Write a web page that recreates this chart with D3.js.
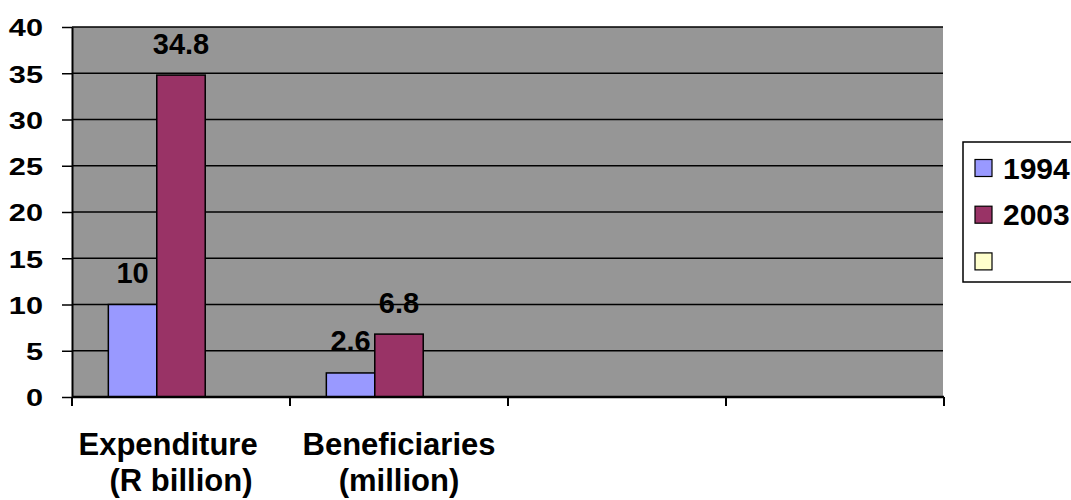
<!DOCTYPE html>
<html>
<head>
<meta charset="utf-8">
<script src="https://cdn.jsdelivr.net/npm/d3@7"></script>
<style>
  html, body { margin: 0; padding: 0; background: #ffffff; }
  svg { display: block; }
  text { font-family: "Liberation Sans", Arial, sans-serif; font-weight: bold; fill: #000; }
</style>
</head>
<body>
<svg id="chart" width="1071" height="500"></svg>
<script>
// Category labels (two lines each); the last two categories are empty slots
const categories = [
  ["Expenditure\u00a0\u00a0\u00a0", "(R billion)"],
  ["Beneficiaries", "(million)"],
  ["", ""],
  ["", ""]
];
const seriesNames = ["1994", "2003", ""];
const values1994 = [10, 2.6, null, null];
const values2003 = [34.8, 6.8, null, null];
const valuesBlank = [null, null, null, null];
const yTicks = [0, 5, 10, 15, 20, 25, 30, 35, 40];
const seriesColors = ["#9999ff", "#993366", "#ffffcc"];

const series = [values1994, values2003, valuesBlank];

const svg = d3.select("#chart");
const plot = { left: 72, right: 944, top: 27, bottom: 397 };

const x = d3.scaleBand()
  .domain(d3.range(categories.length))
  .range([plot.left, plot.right])
  .paddingInner(0).paddingOuter(0);

const xs = d3.scaleBand()
  .domain(d3.range(seriesNames.length))
  .range([0, x.bandwidth()])
  .paddingInner(0).paddingOuter(0.75);

const y = d3.scaleLinear().domain([0, 40]).range([plot.bottom, plot.top]);

// Plot area background
svg.append("rect")
  .attr("x", plot.left).attr("y", plot.top)
  .attr("width", plot.right - 1 - plot.left).attr("height", plot.bottom - plot.top)
  .attr("fill", "#969696");

// Horizontal gridlines
svg.append("g").selectAll("line")
  .data(yTicks.filter(d => d > 0))
  .join("line")
  .attr("x1", plot.left).attr("x2", plot.right - 1)
  .attr("y1", d => y(d)).attr("y2", d => y(d))
  .attr("stroke", "#000").attr("stroke-width", 1.5);

// Bars
const barData = [];
series.forEach((vals, si) => vals.forEach((v, ci) => {
  if (v != null) barData.push({ si, ci, v });
}));

svg.append("g").selectAll("rect")
  .data(barData)
  .join("rect")
  .attr("x", d => x(d.ci) + xs(d.si))
  .attr("y", d => y(d.v))
  .attr("width", xs.bandwidth())
  .attr("height", d => y(0) - y(d.v))
  .attr("fill", d => seriesColors[d.si])
  .attr("stroke", "#000").attr("stroke-width", 1.5);

// Value labels above the bars
svg.append("g").selectAll("text")
  .data(barData)
  .join("text")
  .attr("x", d => x(d.ci) + xs(d.si) + xs.bandwidth() / 2)
  .attr("y", d => y(d.v) - 21.5)
  .attr("text-anchor", "middle")
  .style("font-size", "29px")
  .text(d => d3.format("~g")(d.v));

// Y axis
const yAxis = svg.append("g")
  .attr("transform", `translate(${plot.left},0)`)
  .call(d3.axisLeft(y).tickValues(yTicks).tickSize(10).tickSizeOuter(0).tickFormat(d3.format("d")));
yAxis.select(".domain").attr("stroke", "#000").attr("stroke-width", 2);
yAxis.selectAll(".tick line").attr("stroke", "#000").attr("stroke-width", 1.5);
yAxis.selectAll(".tick text")
  .attr("x", -29 / 1.28)
  .attr("transform", "scale(1.28,1)")
  .attr("dy", "0.37em")
  .style("font-size", "24px")
  .style("font-family", "'Liberation Sans', Arial, sans-serif")
  .style("font-weight", "bold")
  .attr("fill", "#000");

// X axis with ticks at the category boundaries
const xAxis = svg.append("g")
  .attr("transform", `translate(0,${plot.bottom})`);
xAxis.append("line")
  .attr("x1", plot.left).attr("x2", plot.right)
  .attr("stroke", "#000").attr("stroke-width", 2.5);
xAxis.selectAll(".xtick")
  .data(d3.range(categories.length + 1))
  .join("line")
  .attr("class", "xtick")
  .attr("x1", i => i < categories.length ? x(i) : x(i - 1) + x.bandwidth())
  .attr("x2", i => i < categories.length ? x(i) : x(i - 1) + x.bandwidth())
  .attr("y1", 0).attr("y2", 9)
  .attr("stroke", "#000").attr("stroke-width", 2);

// Category labels
const catLabels = svg.append("g").selectAll("text")
  .data(categories)
  .join("text")
  .attr("x", (d, i) => x(i) + x.bandwidth() / 2)
  .attr("y", 455)
  .attr("text-anchor", "middle")
  .style("font-size", "31px")
  .style("white-space", "pre");
catLabels.append("tspan")
  .attr("x", (d, i) => x(i) + x.bandwidth() / 2)
  .text(d => d[0]);
catLabels.append("tspan")
  .attr("x", (d, i) => x(i) + x.bandwidth() / 2)
  .attr("dy", 36)
  .text(d => d[1]);

// Legend
const legend = svg.append("g");
legend.append("rect")
  .attr("x", 963).attr("y", 142)
  .attr("width", 130).attr("height", 140)
  .attr("fill", "#fff").attr("stroke", "#000").attr("stroke-width", 1.5);
const items = legend.selectAll("g.item")
  .data(seriesNames)
  .join("g")
  .attr("class", "item")
  .attr("transform", (d, i) => `translate(975,${168 + i * 46.7})`);
items.append("rect")
  .attr("x", 0).attr("y", -8.5)
  .attr("width", 17).attr("height", 17)
  .attr("fill", (d, i) => seriesColors[i])
  .attr("stroke", "#000").attr("stroke-width", 1.2);
items.append("text")
  .attr("x", 28).attr("y", 10.5)
  .style("font-size", "30px")
  .text(d => d);
</script>
</body>
</html>
